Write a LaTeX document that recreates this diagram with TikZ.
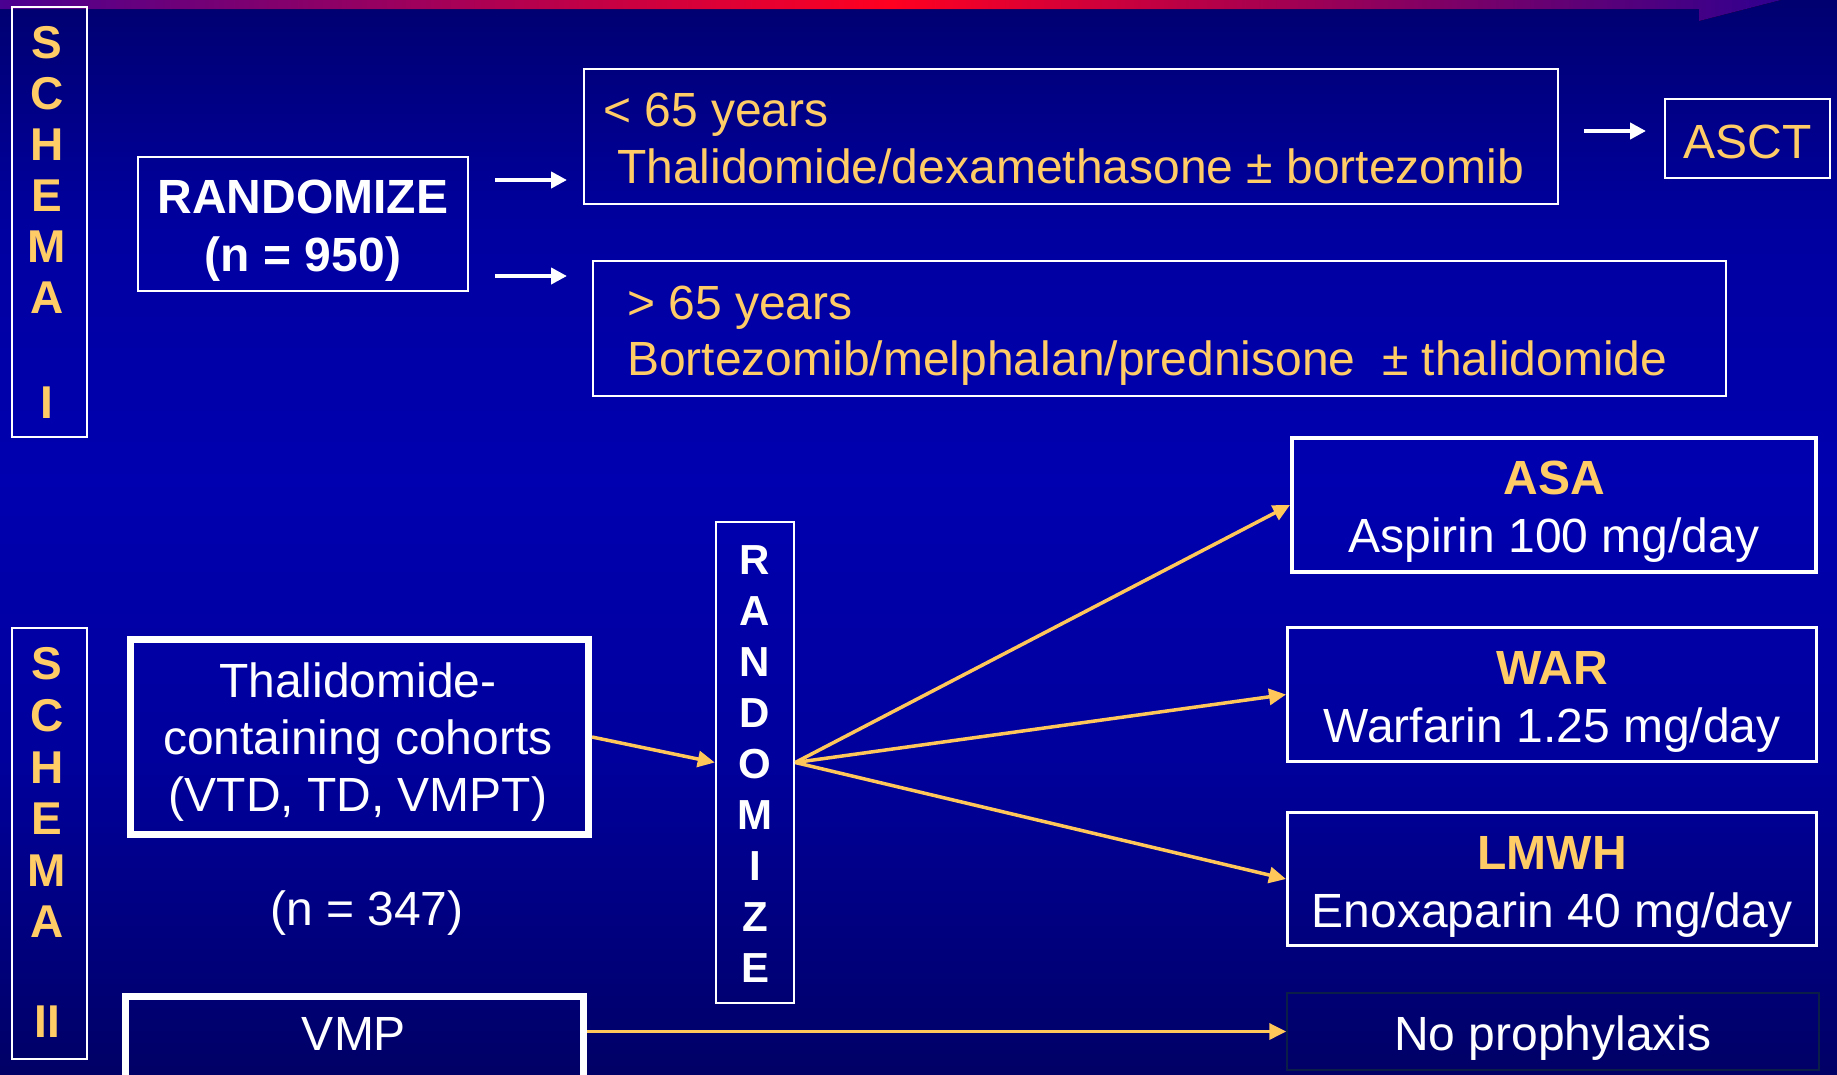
\documentclass[tikz,border=0pt]{standalone}
\usepackage{fontspec}
\setmainfont{Liberation Sans}
\usetikzlibrary{arrows.meta}
\definecolor{ylw}{HTML}{FFCC66}
\definecolor{arrc}{HTML}{FFC65A}
\definecolor{bgA}{HTML}{000070}
\definecolor{bgB}{HTML}{0000A0}
\definecolor{bgC}{HTML}{0000B0}
\definecolor{bgD}{HTML}{00009C}
\definecolor{bgE}{HTML}{000066}
\definecolor{barL}{HTML}{4A0090}
\definecolor{barM}{HTML}{FF0020}
\definecolor{barR}{HTML}{300090}
\definecolor{npline}{HTML}{0A1E48}
\tikzset{
  box/.style={draw=white, line width=2pt, inner sep=0pt, rectangle},
  txt/.style={inner sep=0pt, text=white, font=\fontsize{48}{57}\selectfont},
  ytxt/.style={txt, text=ylw},
  btxt/.style={inner sep=0pt, text=white, font=\fontsize{48}{57}\selectfont\bfseries},
  bytxt/.style={btxt, text=ylw},
  letI/.style={inner sep=0pt, text=ylw, font=\fontsize{46}{50}\selectfont\bfseries},
  letR/.style={inner sep=0pt, text=white, font=\fontsize{42}{50}\selectfont\bfseries},
  warr/.style={draw=white, line width=4pt, -{Triangle[length=16pt,width=16pt]}},
  yarr/.style={draw=arrc, line width=3.5pt, -{Triangle[length=17pt,width=16pt]}}
}
\begin{document}
\begin{tikzpicture}[x=1pt,y=-1pt]
\useasboundingbox (0,0) rectangle (1837,1074);
\clip (0,0) rectangle (1837,1074);
% background
\fill[top color=bgA, bottom color=bgB] (0,0) rectangle (1837,231);
\fill[top color=bgB, bottom color=bgC] (0,230) rectangle (1837,481);
\fill[top color=bgC, bottom color=bgD] (0,480) rectangle (1837,761);
\fill[top color=bgD, bottom color=bgE] (0,760) rectangle (1837,1074);
% top bar
\fill[left color=barL, right color=barR, middle color=barM] (0,0) -- (1781,0) -- (1699,21) -- (1699,9) -- (0,9) -- cycle;

% SCHEMA I
\node[box, minimum width=75pt, minimum height=430pt] (sI) at (49.5,222) {};
\foreach \l [count=\i from 0] in {S,C,H,E,M,A}
  \node[letI] (sIl\i) at (47,43+51*\i) {\l};
\node[letI] (sIlast) at (47,403) {I};
% SCHEMA II
\node[box, minimum width=75pt, minimum height=431pt] (sII) at (49.5,843.5) {};
\foreach \l [count=\i from 0] in {S,C,H,E,M,A}
  \node[letI] (sIIl\i) at (47,664+51.6*\i) {\l};
\node[letI] (sIIlast) at (47,1022) {II};

% Schema I boxes
\node[box, minimum width=330pt, minimum height=134pt] (rand) at (303,224) {};
\node[btxt, anchor=base] (randt1) at (303,213) {RANDOMIZE};
\node[btxt, anchor=base] (randt2) at (303,271) {(n = 950)};

\node[box, minimum width=974pt, minimum height=135pt] (young) at (1071,136.5) {};
\node[ytxt, anchor=base west] (youngt1) at (603,126) {< 65 years};
\node[ytxt, anchor=base west] (youngt2) at (617,183) {Thalidomide/dexamethasone ± bortezomib};

\node[box, minimum width=1133pt, minimum height=135pt] (old) at (1159.5,328.5) {};
\node[ytxt, anchor=base west] (oldt1) at (627,319) {> 65 years};
\node[ytxt, anchor=base west] (oldt2) at (627,375) {Bortezomib/melphalan/prednisone\ \ ± thalidomide};

\node[box, minimum width=165pt, minimum height=79pt] (asct) at (1747.5,138.5) {};
\node[ytxt, anchor=base] (asctt) at (1747.5,158) {ASCT};

\coordinate (w1s) at (495,180);
\coordinate (w1e) at (567,180);
\coordinate (w2s) at (495,276);
\coordinate (w2e) at (567,276);
\coordinate (w3s) at (1584,131);
\coordinate (w3e) at (1646,131);
\draw[warr] (w1s) -- (w1e);
\draw[warr] (w2s) -- (w2e);
\draw[warr] (w3s) -- (w3e);

% Schema II
\node[box, line width=7pt, minimum width=458pt, minimum height=195pt] (thal) at (359.5,737) {};
\node[txt, anchor=base] (thalt1) at (358,697) {Thalidomide-};
\node[txt, anchor=base] (thalt2) at (358,754) {containing cohorts};
\node[txt, anchor=base] (thalt3) at (358,811) {(VTD, TD, VMPT)};
\node[txt, anchor=base] (n347) at (367,925) {(n = 347)};

\node[box, line width=7pt, minimum width=458pt, minimum height=86pt] (vmp) at (354.5,1039) {};
\node[txt, anchor=base] (vmpt) at (354,1050) {VMP};

\node[box, line width=2.5pt, minimum width=78pt, minimum height=481pt] (rv) at (755,762.5) {};
\foreach \l [count=\i from 0] in {R,A,N,D,O,M,I,Z,E}
  \node[letR] (rvl\i) at (755,560+51*\i) {\l};

\node[box, line width=4pt, minimum width=524pt, minimum height=134pt] (asa) at (1554,505) {};
\node[bytxt, anchor=base] (asat1) at (1554,494) {ASA};
\node[txt, anchor=base] (asat2) at (1554,552) {Aspirin 100 mg/day};

\node[box, line width=3pt, minimum width=529pt, minimum height=134pt] (war) at (1552,694.5) {};
\node[bytxt, anchor=base] (wart1) at (1552,684) {WAR};
\node[txt, anchor=base] (wart2) at (1552,742) {Warfarin 1.25 mg/day};

\node[box, line width=3pt, minimum width=529pt, minimum height=133pt] (lmwh) at (1552,879) {};
\node[bytxt, anchor=base] (lmwht1) at (1552,869) {LMWH};
\node[txt, anchor=base] (lmwht2) at (1552,927) {Enoxaparin 40 mg/day};

\node[box, draw=npline, line width=1.5pt, minimum width=532pt, minimum height=77pt] (np) at (1553,1031.5) {};
\node[txt, anchor=base] (npt) at (1553,1050) {No prophylaxis};

\draw[yarr] (thal.east) -- (rv.west);
\draw[yarr] (rv.east) -- (asa.west);
\draw[yarr] (rv.east) -- (war.west);
\draw[yarr] (rv.east) -- (lmwh.west);
\draw[yarr] (vmp.east |- np.west) -- (np.west);
\end{tikzpicture}
\end{document}
